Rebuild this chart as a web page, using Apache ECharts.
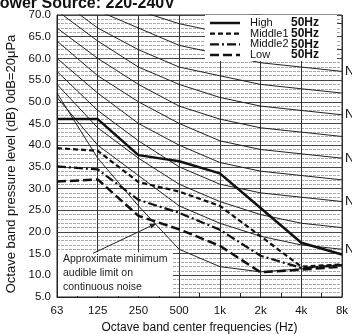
<!DOCTYPE html>
<html>
<head>
<meta charset="utf-8">
<script src="https://cdn.jsdelivr.net/npm/echarts@6/dist/echarts.min.js"></script>
<style>
  html, body { margin: 0; padding: 0; background: #fff; }
  #chart { width: 352px; height: 334px; }
</style>
</head>
<body>
<div id="chart"></div>
<script>
// octave band centre frequencies
var freqs = ["63", "125", "250", "500", "1k", "2k", "4k", "8k"];

// unit sound levels (dB)
var high = [46, 46, 37.7, 36.3, 33.5, 25.5, 17.5, 14.8];
var middle1 = [39.3, 38.7, 31.5, 29.3, 26, 19, 12, 12.5];
var middle2 = [35.1, 34.4, 27.4, 24.4, 20.5, 14.5, 11.7, 12.3];
var low = [31.6, 32.1, 23.7, 20.6, 16.8, 10.7, 11.3, 12];

// NC reference curves
var ncNames = ["NC-70", "NC-65", "NC-60", "NC-55", "NC-50", "NC-45", "NC-40", "NC-35", "NC-30", "NC-25", "NC-20"];
var nc70 = [83, 79, 75, 72, 71, 70, 69, 68];
var nc65 = [80, 75, 71, 68, 66, 64, 63, 62];
var nc60 = [77, 71, 67, 63, 61, 59, 58, 57];
var nc55 = [74, 67, 62, 58, 56, 54, 53, 52];
var nc50 = [71, 64, 58, 54, 51, 49, 48, 47];
var nc45 = [67, 60, 54, 49, 46, 44, 43, 42];
var nc40 = [64, 56, 50, 45, 41, 39, 38, 37];
var nc35 = [60, 52, 45, 40, 36, 34, 33, 32];
var nc30 = [57, 48, 41, 35, 31, 29, 28, 27];
var nc25 = [54, 44, 37, 31, 27, 24, 22, 21];
var nc20 = [51, 40, 33, 26, 22, 19, 17, 16];
var ncCurves = [nc70, nc65, nc60, nc55, nc50, nc45, nc40, nc35, nc30, nc25, nc20];
var ncLabelled = ["NC-60", "NC-50", "NC-40", "NC-30", "NC-20"];

// approximate minimum audible limit on continuous noise
var audible = [52, 37, 26, 16, 12, 10.8, 11.5, 12.5];

var legendNames = ["High", "Middle1", "Middle2", "Low"];
var legendTag = "50Hz";

var yMin = 5, yMax = 70;

function pairs(arr) {
  return arr.map(function (v, i) { return [i, v]; });
}

var font = "Liberation Sans, Arial, Helvetica, sans-serif";

var series = [];
ncCurves.forEach(function (c, k) {
  var name = ncNames[k];
  series.push({
    name: name,
    type: "line",
    data: pairs(c),
    symbol: "none",
    silent: true,
    lineStyle: { color: "#222", width: 1 },
    endLabel: {
      show: ncLabelled.indexOf(name) >= 0,
      formatter: name,
      color: "#111",
      fontSize: 13,
      fontFamily: font,
      distance: 3
    },
    z: 2
  });
});
series.push({
  name: "audible",
  type: "line",
  data: pairs(audible),
  symbol: "none",
  silent: true,
  lineStyle: { color: "#222", width: 1 },
  z: 2
});

var units = [
  { name: legendNames[0], data: high, type: "solid", width: 2.5 },
  { name: legendNames[1], data: middle1, type: [5, 3], width: 2.2 },
  { name: legendNames[2], data: middle2, type: [9, 3, 2, 3], width: 2.2 },
  { name: legendNames[3], data: low, type: [9, 4], width: 2.5 }
];
units.forEach(function (u) {
  series.push({
    name: u.name,
    type: "line",
    data: pairs(u.data),
    symbol: "none",
    lineStyle: { color: "#111", width: u.width, type: u.type },
    z: 5
  });
});

var chart = echarts.init(document.getElementById("chart"));
chart.setOption({
  animation: false,
  title: {
    text: "Power Source: 220-240V",
    left: -16,
    top: -9,
    textStyle: { fontSize: 16, fontWeight: "bold", color: "#111", fontFamily: font }
  },
  grid: {
    left: 57, right: 10, top: 15, bottom: 37,
    outerBoundsMode: "none",
    containLabel: false,
    show: true, borderColor: "#222", borderWidth: 1
  },
  xAxis: {
    type: "value",
    min: 0,
    max: freqs.length - 1,
    interval: 1,
    name: "Octave band center frequencies (Hz)",
    nameLocation: "middle",
    nameGap: 23,
    nameTextStyle: { fontSize: 12, color: "#111", fontFamily: font },
    axisLine: { lineStyle: { color: "#222" } },
    axisTick: { show: false, inside: true },
    minorTick: { show: true, splitNumber: 2, length: 4, lineStyle: { color: "#222" } },
    axisLabel: {
      formatter: function (v) { return freqs[v] || ""; },
      fontSize: 11.5, color: "#111", fontFamily: font, margin: 8
    },
    splitLine: { show: true, lineStyle: { color: "#333", width: 1 } }
  },
  yAxis: {
    type: "value",
    min: yMin,
    max: yMax,
    interval: 5,
    name: "Octave band pressure level (dB) 0dB=20\u03bcPa",
    nameLocation: "middle",
    nameGap: 38,
    nameTextStyle: { fontSize: 13, color: "#111", fontFamily: font, padding: [0, 16, 0, 0] },
    axisLine: { show: true, lineStyle: { color: "#222" } },
    axisTick: { show: false },
    axisLabel: {
      formatter: function (v) { return v.toFixed(1); },
      fontSize: 11.5, color: "#111", fontFamily: font, margin: 6
    },
    splitLine: { show: true, lineStyle: { color: "#444", width: 1 } },
    minorTick: { show: false, splitNumber: 5 },
    minorSplitLine: { show: true, lineStyle: { color: "#aaa", width: 1, type: [3, 1] } }
  },
  series: series
});

// legend box (drawn as graphic so the dash patterns match)
var graphics = [];
var lgX = 205, lgY = 15, rowH = 10.7;
graphics.push({
  type: "rect",
  shape: { x: lgX, y: lgY, width: 132, height: 46 },
  style: { fill: "#fff" },
  z: 50
});
units.forEach(function (u, i) {
  var cy = lgY + 8 + i * rowH;
  graphics.push({
    type: "line",
    shape: { x1: lgX + 5, y1: cy, x2: lgX + 35, y2: cy },
    style: { stroke: "#111", lineWidth: u.width, lineDash: u.type === "solid" ? null : u.type },
    z: 51
  });
  graphics.push({
    type: "text",
    x: lgX + 45, y: cy,
    style: { text: u.name, font: "11px " + font, fill: "#111", verticalAlign: "middle" },
    z: 51
  });
  graphics.push({
    type: "text",
    x: lgX + 86, y: cy,
    style: { text: legendTag, font: "bold 12px " + font, fill: "#111", verticalAlign: "middle" },
    z: 51
  });
});

// annotation box with arrow to the audible-limit curve
var boxTL = chart.convertToPixel({ gridIndex: 0 }, [0, 15.3]);
var boxBR = chart.convertToPixel({ gridIndex: 0 }, [2.82, 5]);
var tip = chart.convertToPixel({ gridIndex: 0 }, [2.45, 22]);
var tail = [boxTL[0] + 36, boxTL[1] + 1];
var ang = Math.atan2(tip[1] - tail[1], tip[0] - tail[0]);
var ah = 7, aw = 2.5;
var bx = tip[0] - ah * Math.cos(ang), by = tip[1] - ah * Math.sin(ang);
graphics.push(
  {
    type: "rect",
    shape: { x: boxTL[0] + 1, y: boxTL[1], width: boxBR[0] - boxTL[0], height: boxBR[1] - boxTL[1] - 1 },
    style: { fill: "#fff" },
    z: 50
  },
  {
    type: "text",
    x: boxTL[0] + 6,
    y: boxTL[1],
    style: {
      text: "Approximate minimum\naudible limit on\ncontinuous noise",
      font: "10.5px " + font,
      fill: "#222",
      lineHeight: 14
    },
    z: 51
  },
  {
    type: "line",
    shape: { x1: tail[0], y1: tail[1], x2: bx, y2: by },
    style: { stroke: "#222", lineWidth: 1 },
    z: 51
  },
  {
    type: "polygon",
    shape: {
      points: [
        tip,
        [bx + aw * Math.sin(ang), by - aw * Math.cos(ang)],
        [bx - aw * Math.sin(ang), by + aw * Math.cos(ang)]
      ]
    },
    style: { fill: "#222" },
    z: 51
  }
);
chart.setOption({ graphic: graphics });
</script>
</body>
</html>
